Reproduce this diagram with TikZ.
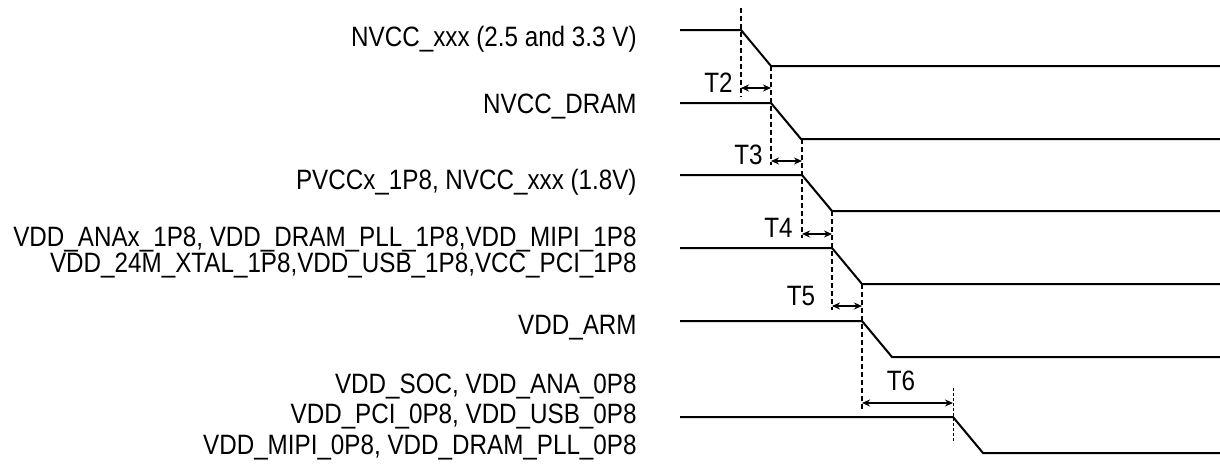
\documentclass[tikz,border=0pt]{standalone}
\usepackage{fontspec}
\setmainfont{Liberation Sans}[FakeStretch=0.865]
\usetikzlibrary{arrows.meta}

\tikzset{
  rail/.style={line width=1pt},
  guide/.style={line width=0.6pt, dash pattern=on 2.5pt off 1.5pt},
  fineguide/.style={line width=0.5pt, dash pattern=on 1.5pt off 1pt},
  delay/.style={line width=0.7pt, {Stealth[length=4pt,width=3.5pt]}-{Stealth[length=4pt,width=3.5pt]}},
  railname/.style={anchor=east, align=right, inner sep=0pt, font=\fontsize{14}{13}\selectfont},
  tname/.style={inner sep=0pt, font=\fontsize{14}{14}\selectfont},
}

\begin{document}
\begin{tikzpicture}[x=0.5pt,y=-0.5pt]
  \useasboundingbox (0,0) rectangle (1220,466);

  % rails: index / high level / start of the fall
  \foreach \i/\y/\x in {1/30/741, 2/103/771, 3/175/802, 4/248/832, 5/321/862, 6/417/953} {
    \coordinate (in\i) at (680,\y);
    \coordinate (fall\i) at (\x,\y);
    \coordinate (low\i) at (\x+30,\y+36);
    \coordinate (out\i) at (1220,\y+36);
    \draw[rail] (in\i) -- (fall\i) -- (low\i) -- (out\i);
  }

  % rail names
  \node[railname] (n1) at (637,39) {NVCC\_xxx (2.5 and 3.3 V)};
  \node[railname] (n2) at (637,107) {NVCC\_DRAM};
  \node[railname] (n3) at (637,182) {PVCCx\_1P8, NVCC\_xxx (1.8V)};
  \node[railname] (n4) at (637,253) {VDD\_ANAx\_1P8, VDD\_DRAM\_PLL\_1P8,VDD\_MIPI\_1P8\\
    VDD\_24M\_XTAL\_1P8,VDD\_USB\_1P8,VCC\_PCI\_1P8};
  \node[railname, font=\fontsize{14}{15.3}\selectfont] (n6) at (637,417) {VDD\_SOC, VDD\_ANA\_0P8\\
    VDD\_PCI\_0P8, VDD\_USB\_0P8\\
    VDD\_MIPI\_0P8, VDD\_DRAM\_PLL\_0P8};
  \node[railname] (n5) at (637,328) {VDD\_ARM};

  % dashed guides
  \foreach \i/\x/\a/\b in {1/741/8/97, 2/771/66/165, 3/802/139/238, 4/832/211/310, 5/862/284/410} {
    \coordinate (gt\i) at (\x,\a);
    \coordinate (gb\i) at (\x,\b);
    \draw[guide] (gt\i) -- (gb\i);
  }
  \coordinate (gt6) at (953,388);
  \coordinate (gb6) at (953,442);
  \draw[fineguide] (gt6) -- (gb6);

  % delays
  \foreach \n/\xa/\xb/\y in {2/741/771/88, 3/771/802/161, 4/802/832/234, 5/832/862/306, 6/862/953/403} {
    \coordinate (ta\n) at (\xa,\y);
    \coordinate (tb\n) at (\xb,\y);
    \draw[delay] (ta\n) -- (tb\n);
  }
  \node[tname, anchor=east] (t2) at (733,83) {T2};
  \node[tname, anchor=east] (t3) at (763,155) {T3};
  \node[tname, anchor=east] (t4) at (793,228) {T4};
  \node[tname] (t5) at (801,296) {T5};
  \node[tname] (t6) at (901,381) {T6};
\end{tikzpicture}
\end{document}
